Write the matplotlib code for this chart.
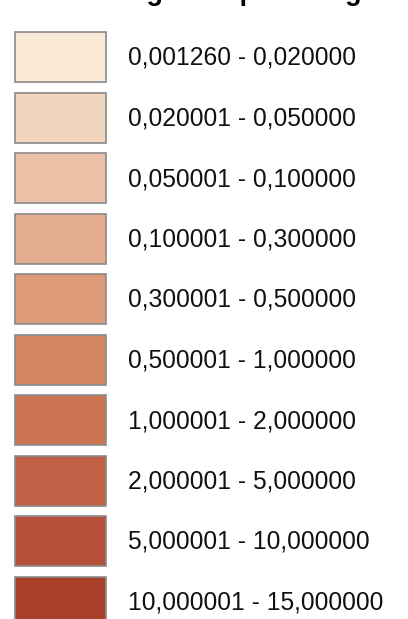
import matplotlib.pyplot as plt
from matplotlib.patches import Rectangle

plt.rcParams['font.family'] = ['Liberation Sans', 'DejaVu Sans']

# legend classes
labels = [
    '0,001260 - 0,020000',
    '0,020001 - 0,050000',
    '0,050001 - 0,100000',
    '0,100001 - 0,300000',
    '0,300001 - 0,500000',
    '0,500001 - 1,000000',
    '1,000001 - 2,000000',
    '2,000001 - 5,000000',
    '5,000001 - 10,000000',
    '10,000001 - 15,000000',
]
colors = [
    '#FAE9D7', '#F2D5BF', '#ECC1A7', '#E5AD8F', '#DD9A78',
    '#D58763', '#CC7352', '#C26046', '#B64F37', '#A9402A',
]
title = 'Average sample rating'

W, H = 408, 619
fig = plt.figure(figsize=(W / 100, H / 100), dpi=100)
ax = fig.add_axes([0, 0, 1, 1])
ax.set_xlim(0, W)
ax.set_ylim(H, 0)
ax.axis('off')

# title is cut off by the top edge, only descenders show
ax.text(72, 0, title, fontsize=19.5, fontweight='bold', va='baseline', ha='left')

top, step, box_h = 32, 60.5, 50
for i, (lab, col) in enumerate(zip(labels, colors)):
    y = top + i * step
    ax.add_patch(Rectangle((15, y), 91, box_h, facecolor=col,
                           edgecolor='#8a8a8a', linewidth=1.2))
    ax.text(128, y + box_h / 2 + 1, lab, fontsize=17.7, va='center', ha='left',
            color='#111111')

fig.savefig('out.png', dpi=100)
